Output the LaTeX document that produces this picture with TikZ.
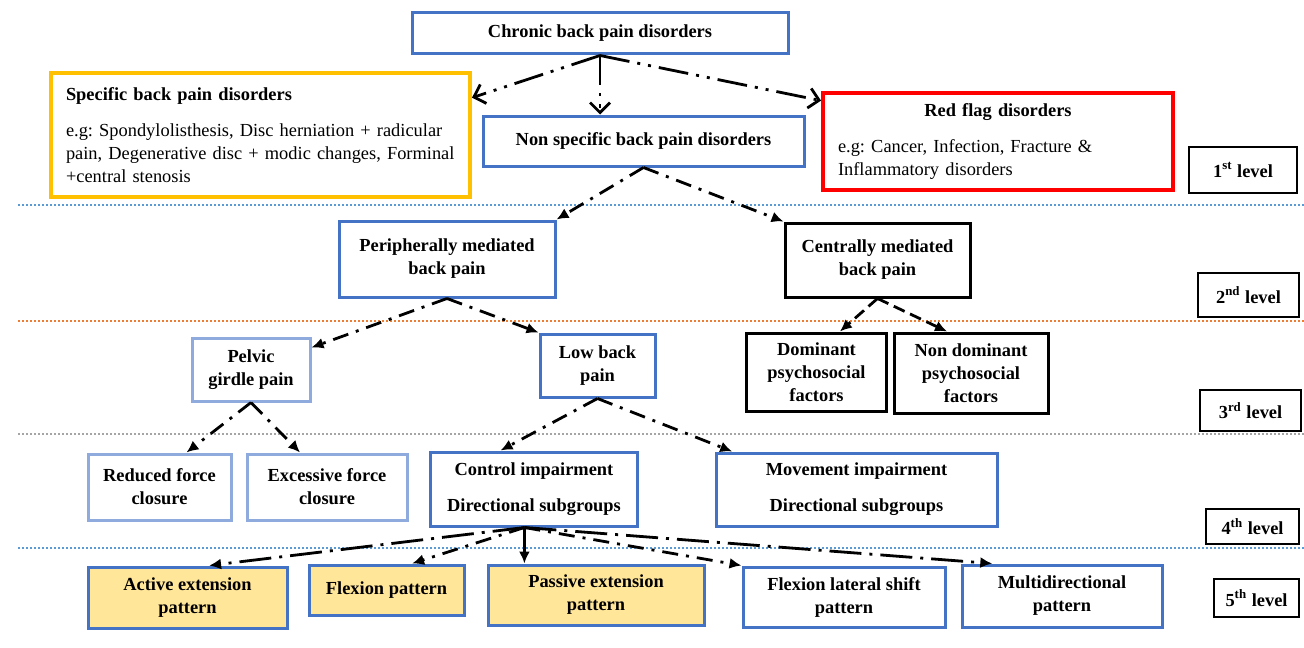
\documentclass[tikz,border=0pt]{standalone}
\usepackage{fontspec}
\setmainfont{Liberation Serif}
\usepackage{tikz}
\usetikzlibrary{arrows.meta}
\definecolor{boxblue}{HTML}{4472C4}
\definecolor{paleblue}{HTML}{8FAADC}
\definecolor{gold}{HTML}{FFC000}
\definecolor{patfill}{HTML}{FFE699}
\definecolor{sepblue}{HTML}{5B9BD5}
\definecolor{seporange}{HTML}{ED7D31}
\definecolor{sepgray}{HTML}{A5A5A5}
\newcommand{\bodysize}{\fontsize{9.2pt}{11.5pt}\selectfont\frenchspacing}

\begin{document}
\begin{tikzpicture}
[x=0.5pt, y=-0.5pt,
box/.style={rectangle, draw=boxblue, line width=1.5pt, fill=white, align=center,
font=\bodysize\bfseries, inner sep=2pt},
palebox/.style={box, draw=paleblue},
darkbox/.style={box, draw=black},
patbox/.style={box, fill=patfill},
lvl/.style={rectangle, draw=black, line width=0.7pt, font=\bodysize\bfseries},
sep/.style={line width=1.1pt, dash pattern=on 1pt off 1pt},
link/.style={line width=1.4pt, dash pattern=on 8pt off 4pt on 1.5pt off 4pt,
-{Latex[length=6pt,width=5.5pt]}},
longlink/.style={link, dash pattern=on 16pt off 4pt on 1.5pt off 4pt},
toplink/.style={line width=1.4pt, dash pattern=on 15pt off 4pt on 1.5pt off 4pt on 1.5pt off 4pt,
-{Straight Barb[length=5pt,width=10pt]}}]
\useasboundingbox (0,0) rectangle (1304,647);

\node[box, minimum width=188pt, minimum height=20.5pt] (chronic) at (600,33.5) {Chronic back pain disorders};
\node[box, draw=gold, line width=2pt, font=\bodysize, align=left, text width=194.5pt,
inner xsep=7.5pt, minimum height=62pt] (specific) at (260.5,135)
{\textbf{Specific back pain disorders}\\[6.5pt]
e.g: Spondylolisthesis, Disc herniation + radicular\\
pain, Degenerative disc + modic changes, Forminal\\
+central stenosis};
\node[box, minimum width=160.5pt, minimum height=25pt] (nonspec) at (643.5,141) {Non specific back pain disorders};
\node[box, draw=red, line width=2pt, font=\bodysize, align=left, text width=160pt,
inner xsep=7.5pt, minimum height=48.5pt] (redflag) at (998,141.5)
{\makebox[\linewidth]{\textbf{Red flag disorders}}\\[6.5pt]
e.g: Cancer, Infection, Fracture \&\\
Inflammatory disorders};

\node[box, minimum width=108pt, minimum height=38pt] (periph) at (447,259) {Peripherally mediated\\back pain};
\node[darkbox, minimum width=92.5pt, minimum height=37pt] (central) at (877.5,260) {Centrally mediated\\back pain};

\node[palebox, minimum width=59pt, minimum height=31.5pt] (pelvic) at (251,369.5) {Pelvic\\girdle pain};
\node[box, minimum width=57.5pt, minimum height=31.5pt] (lowback) at (597.5,365.5) {Low back\\pain};
\node[darkbox, minimum width=70pt, minimum height=39pt] (dominant) at (816.5,372) {Dominant\\psychosocial\\factors};
\node[darkbox, minimum width=77pt, minimum height=40pt] (nondom) at (971,373) {Non dominant\\psychosocial\\factors};

\node[palebox, minimum width=71.5pt, minimum height=33pt] (reduced) at (159.5,487) {Reduced force\\closure};
\node[palebox, minimum width=80pt, minimum height=33pt] (excessive) at (327,487) {Excessive force\\closure};
\node[box, minimum width=103.5pt, minimum height=37pt] (control) at (534,489) {Control impairment\\[6.5pt]Directional subgroups};
\node[box, minimum width=140.5pt, minimum height=36.5pt] (movement) at (856.5,489.5) {Movement impairment\\[6.5pt]Directional subgroups};

\node[patbox, minimum width=99.5pt, minimum height=30.5pt] (active) at (187.5,597.5) {Active extension\\pattern};
\node[patbox, minimum width=77.5pt, minimum height=25pt] (flexion) at (386.5,590) {Flexion pattern};
\node[patbox, minimum width=108pt, minimum height=30pt] (passive) at (596,595) {Passive extension\\pattern};
\node[box, minimum width=101pt, minimum height=30pt] (lateral) at (844,597) {Flexion lateral shift\\pattern};
\node[box, minimum width=100pt, minimum height=31pt] (multi) at (1062,596) {Multidirectional\\pattern};

\node[lvl, minimum width=54pt, minimum height=23pt] (lvl1) at (1243,170) {1\textsuperscript{st} level};
\node[lvl, minimum width=50.5pt, minimum height=22pt] (lvl2) at (1248.5,295) {2\textsuperscript{nd} level};
\node[lvl, minimum width=50.5pt, minimum height=20.5pt] (lvl3) at (1250.5,410.5) {3\textsuperscript{rd} level};
\node[lvl, minimum width=46.5pt, minimum height=17.5pt] (lvl4) at (1252.5,526.5) {4\textsuperscript{th} level};
\node[lvl, minimum width=42.5pt, minimum height=19pt] (lvl5) at (1256.5,598) {5\textsuperscript{th} level};

\draw[sep, sepblue] (18,205) -- (1304,205);
\draw[sep, seporange] (18,321) -- (1304,321);
\draw[sep, sepgray] (18,434) -- (1304,434);
\draw[sep, sepblue] (18,548) -- (1304,548);

\path[toplink] (chronic.south) edge (specific.10)
               edge (chronic.south |- nonspec.north)
               edge (redflag.167);
\path[link] (nonspec.south) edge (periph.north east)
            edge (central.north west);
\path[link] (periph.south) edge (pelvic.20)
            edge (lowback.north west);
\path[link, dash pattern=on 6pt off 3pt] (central.south) edge (dominant.60)
            edge (nondom.120);
\path[link] (pelvic.south) edge (reduced.52)
            edge (excessive.128);
\path[link] (lowback.south) edge (control.131)
            edge (movement.163);
\path[longlink] (control.256) edge (active.56)
                edge (multi.155);
\path[link] (control.256) edge (flexion.46)
            edge (lateral.north west);
\draw[link, solid] (control.256) -- (control.256 |- passive.north);
\end{tikzpicture}
\end{document}
